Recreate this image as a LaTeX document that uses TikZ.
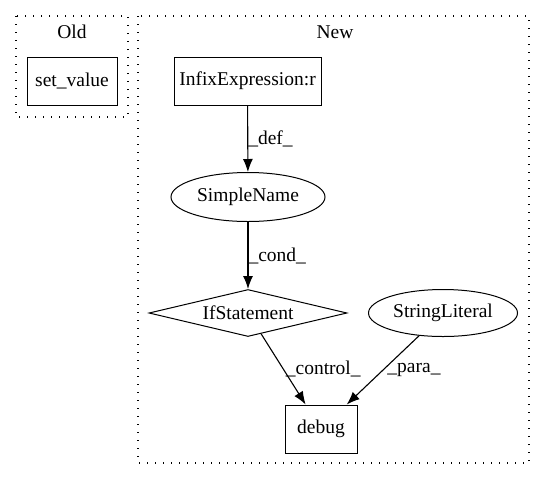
\documentclass[tikz,border=0pt]{standalone}
\usepackage{fontspec}
\setmainfont{Liberation Serif}
\usetikzlibrary{shapes.geometric,arrows.meta}

\begin{document}
\begin{tikzpicture}[
x=1pt,
y=-1pt,
every node/.style={
  font=\fontsize{19.5}{23}\selectfont
  },
cluster/.style={
  draw,
  line width=1.2pt,
  dash pattern=on 1.3pt off 6.7pt
  },
box/.style={
  draw,
  rectangle,
  line width=1pt,
  inner sep=0pt,
  minimum height=48pt
  },
oval/.style={
  draw,
  ellipse,
  line width=1pt,
  inner sep=0pt,
  minimum height=49pt
  },
cond/.style={
  draw,
  diamond,
  line width=1pt,
  aspect=4.2,
  inner sep=0pt,
  minimum width=198pt,
  minimum height=47pt
  },
lbl/.style={
  anchor=west,
  inner sep=0pt
  },
flow/.style={
  ->,
  line width=1.1pt
  },
>={Latex[length=13pt,width=10pt]}
]
\useasboundingbox (0,0) rectangle (545,480);

% clusters
\draw[cluster] (16,16) rectangle (128,117);
\draw[cluster] (138,16) rectangle (529,463);
\node (old) at (72,32) {Old};
\node (new) at (335,32) {New};

% nodes
\node[box, minimum width=90pt] (setvalue) at (72,81) {set\_value};
\node[box, minimum width=147pt] (infix) at (247.5,81) {InfixExpression:r};
\node[oval, minimum width=154pt] (simplename) at (248,197) {SimpleName};
\node[cond] (ifstmt) at (248,313) {IfStatement};
\node[oval, minimum width=149pt, minimum height=47pt] (strlit) at (443,313) {StringLiteral};
\node[box, minimum width=72pt] (debug) at (321,429) {debug};

% edges
\draw[flow] (infix) -- node[lbl, pos=0.5] (ldef) {\_def\_} (simplename);
\draw[flow] (simplename) -- node[lbl, pos=0.5] (lcond) {\_cond\_} (ifstmt);
\draw[flow] (ifstmt) -- node[lbl, pos=0.5, xshift=2pt] (lcontrol) {\_control\_} (debug);
\draw[flow] (strlit) -- node[lbl, pos=0.5, xshift=4pt] (lpara) {\_para\_} (debug);

\end{tikzpicture}
\end{document}
